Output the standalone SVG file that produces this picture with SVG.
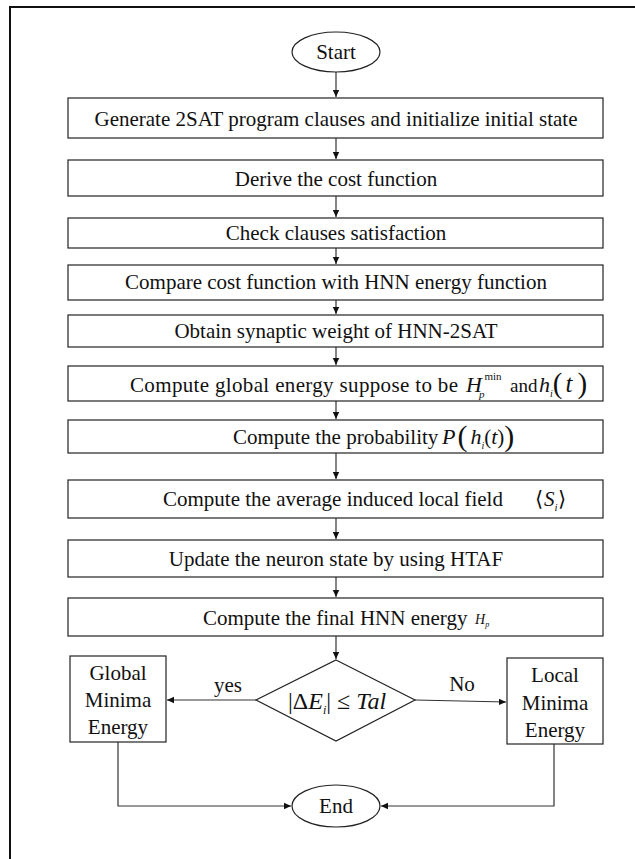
<svg xmlns="http://www.w3.org/2000/svg" width="635" height="859" viewBox="0 0 635 859">
<defs>
<marker id="ah" markerWidth="8" markerHeight="8" refX="7" refY="4" orient="auto" markerUnits="userSpaceOnUse">
<path d="M0,0.8 L7,4 L0,7.2 Z" fill="#111"/>
</marker>
<style>
.box{fill:#fff;stroke:#222;stroke-width:1.2}
.t{font-family:"Liberation Serif","Times New Roman",serif;font-size:21px;fill:#111}
.m{font-family:"Liberation Serif","Times New Roman",serif;font-style:italic;fill:#111}
.r{font-style:normal}
.c{text-anchor:middle}
.ln{fill:none;stroke:#333;stroke-width:1.2}
</style>
</defs>
<rect x="0" y="0" width="635" height="859" fill="#fff"/>
<path d="M10,859 V7 H635" fill="none" stroke="#111" stroke-width="2"/>

<g id="connectors">
<path class="ln" d="M336,72 V97" marker-end="url(#ah)"/>
<path class="ln" d="M336,138 V159" marker-end="url(#ah)"/>
<path class="ln" d="M336,196 V217" marker-end="url(#ah)"/>
<path class="ln" d="M336,248 V264" marker-end="url(#ah)"/>
<path class="ln" d="M336,300 V314" marker-end="url(#ah)"/>
<path class="ln" d="M336,347 V365" marker-end="url(#ah)"/>
<path class="ln" d="M336,401 V419" marker-end="url(#ah)"/>
<path class="ln" d="M336,453 V479" marker-end="url(#ah)"/>
<path class="ln" d="M336,518 V539" marker-end="url(#ah)"/>
<path class="ln" d="M336,577 V597" marker-end="url(#ah)"/>
<path class="ln" d="M336,636 V659" marker-end="url(#ah)"/>
<path class="ln" d="M256,700 H167" marker-end="url(#ah)"/>
<path class="ln" d="M415,700 L506,702" marker-end="url(#ah)"/>
<path class="ln" d="M118,742 V806 H291" marker-end="url(#ah)"/>
<path class="ln" d="M554,744 V806 H381" marker-end="url(#ah)"/>
<text class="t c" x="228" y="692">yes</text>
<text class="t c" x="462" y="691">No</text>
</g>

<g id="start">
<ellipse cx="336" cy="52" rx="44" ry="20" class="box"/>
<text class="t c" x="336" y="59">Start</text>
</g>

<g id="n1">
<rect x="68" y="98" width="535" height="40" class="box"/>
<text class="t c" x="336" y="126">Generate 2SAT program clauses and initialize initial state</text>
</g>
<g id="n2">
<rect x="68" y="160" width="535" height="36" class="box"/>
<text class="t c" x="336" y="186">Derive the cost function</text>
</g>
<g id="n3">
<rect x="68" y="218" width="535" height="30" class="box"/>
<text class="t c" x="336" y="240">Check clauses satisfaction</text>
</g>
<g id="n4">
<rect x="68" y="265" width="535" height="35" class="box"/>
<text class="t c" x="336" y="289">Compare cost function with HNN energy function</text>
</g>
<g id="n5">
<rect x="68" y="315" width="535" height="32" class="box"/>
<text class="t c" x="336" y="338">Obtain synaptic weight of HNN-2SAT</text>
</g>
<g id="n6">
<rect x="68" y="366" width="535" height="35" class="box"/>
<text class="t" x="130" y="392" textLength="328" lengthAdjust="spacing">Compute global energy suppose to be</text>
<text class="m" x="466" y="392" font-size="22">H<tspan font-size="11" dx="-3" dy="6">p</tspan><tspan class="r" font-size="11" dx="0" dy="-18">min</tspan></text>
<text class="t" x="510" y="392" style="font-size:19px">and</text>
<text class="m" x="539" y="392" font-size="22">h<tspan font-size="10" dy="5">i</tspan><tspan class="r" font-size="29" dy="-4">(</tspan><tspan font-size="25" dx="3" dy="-1">t</tspan><tspan class="r" font-size="29" dx="5" dy="1">)</tspan></text>
</g>
<g id="n7">
<rect x="68" y="420" width="535" height="33" class="box"/>
<text class="t" x="233" y="444">Compute the probability</text>
<text class="m" x="442" y="444" font-size="22">P<tspan class="r" font-size="30" dx="2" dy="2">(</tspan><tspan font-size="22" dx="3" dy="-2">h</tspan><tspan font-size="10" dy="5">i</tspan><tspan class="r" font-size="21" dy="-5">(</tspan><tspan font-size="22">t</tspan><tspan class="r" font-size="21">)</tspan><tspan class="r" font-size="30" dy="2">)</tspan></text>
</g>
<g id="n8">
<rect x="68" y="480" width="535" height="38" class="box"/>
<text class="t" x="163" y="506">Compute the average induced local field</text>
<text class="t" x="535" y="506">⟨<tspan class="m" dx="1">S</tspan><tspan class="m" font-size="11" dy="5">i</tspan><tspan dy="-5">⟩</tspan></text>
</g>
<g id="n9">
<rect x="68" y="540" width="535" height="37" class="box"/>
<text class="t c" x="336" y="566">Update the neuron state by using HTAF</text>
</g>
<g id="n10">
<rect x="68" y="598" width="535" height="38" class="box"/>
<text class="t" x="203" y="625">Compute the final HNN energy</text>
<text class="m" x="475" y="624" font-size="14">H<tspan font-size="8" dx="0" dy="3">p</tspan></text>
</g>

<g id="decision">
<polygon points="336,660 415,700 336,741 256,700" class="box"/>
<text class="t" x="288" y="709" style="font-size:24px">|Δ<tspan class="m" font-size="24">E</tspan><tspan class="m" font-size="12" dy="5">i</tspan><tspan dy="-5">| ≤ </tspan><tspan class="m" font-size="24">Tal</tspan></text>
</g>

<g id="global">
<rect x="70" y="656" width="96" height="86" class="box"/>
<text class="t c" x="118" y="680">Global</text>
<text class="t c" x="118" y="707">Minima</text>
<text class="t c" x="118" y="734">Energy</text>
</g>

<g id="local">
<rect x="507" y="658" width="96" height="86" class="box"/>
<text class="t c" x="555" y="682">Local</text>
<text class="t c" x="555" y="710">Minima</text>
<text class="t c" x="555" y="737">Energy</text>
</g>

<g id="end">
<ellipse cx="336" cy="806" rx="44" ry="21" class="box"/>
<text class="t c" x="336" y="813">End</text>
</g>
</svg>
